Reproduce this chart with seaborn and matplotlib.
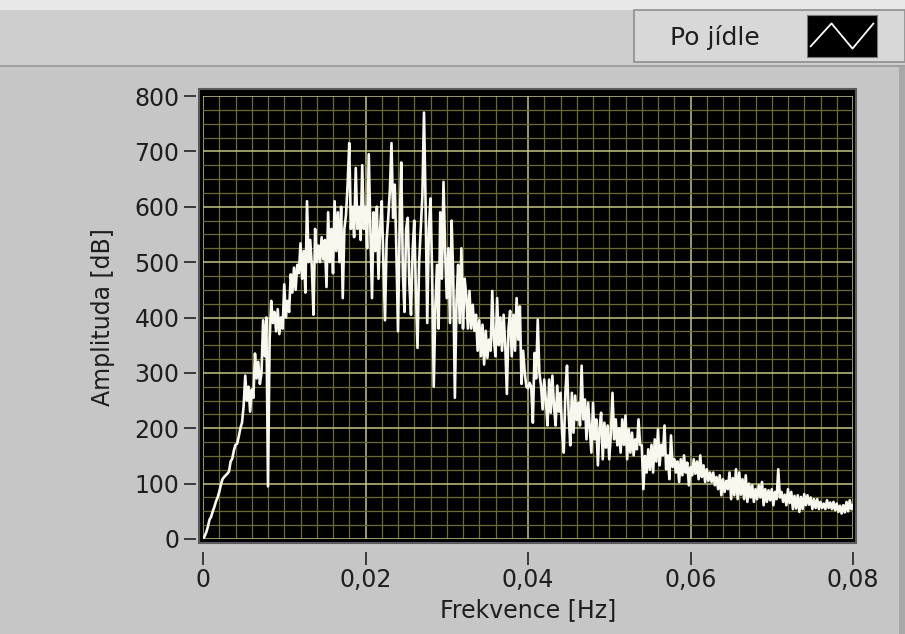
import numpy as np
import pandas as pd
import matplotlib
matplotlib.use("Agg")
import matplotlib.pyplot as plt
import seaborn as sns
from matplotlib.patches import Rectangle
from matplotlib.ticker import MultipleLocator

# -------------------------------
# DATA
# -------------------------------

series_name = "Po jídle"
freq_step = 0.0002

amplitude = [
    0, 5, 12, 22, 35, 40, 50, 58, 68, 75,
    85, 98, 108, 112, 115, 118, 122, 140, 145, 160,
    170, 172, 185, 200, 210, 240, 295, 250, 275, 230,
    270, 255, 335, 290, 320, 280, 300, 395, 330, 400,
    95, 360, 430, 390, 410, 375, 415, 370, 400, 380,
    460, 400, 430, 410, 478, 445, 490, 450, 495, 480,
    534, 470, 520, 445, 610, 500, 540, 490, 405, 560,
    500, 530, 500, 545, 505, 540, 455, 590, 500, 560,
    480, 610, 520, 590, 500, 600, 435, 560, 585, 640,
    715, 560, 600, 545, 670, 560, 600, 540, 675, 560,
    600, 525, 695, 560, 435, 590, 520, 600, 470, 560,
    610, 500, 395, 540, 580, 630, 715, 580, 640, 520,
    375, 560, 680, 480, 410, 560, 580, 460, 405, 520,
    575, 450, 345, 500, 560, 620, 770, 600, 390, 560,
    615, 480, 275, 420, 495, 380, 590, 470, 645, 520,
    435, 525, 390, 575, 470, 255, 430, 495, 390, 525,
    380, 470, 440, 380, 448, 380, 423, 376, 405, 340,
    395, 330, 387, 315, 376, 327, 360, 340, 448, 360,
    330, 435, 350, 400, 340, 405, 350, 262, 380, 412,
    330, 405, 340, 435, 360, 420, 280, 340, 300, 275,
    272, 282, 275, 210, 336, 290, 396, 300, 277, 234,
    288, 250, 205, 288, 228, 295, 240, 205, 277, 230,
    264, 192, 156, 264, 313, 228, 169, 264, 192, 259,
    215, 246, 205, 313, 216, 252, 180, 246, 200, 156,
    246, 180, 216, 133, 200, 228, 144, 210, 165, 205,
    144, 190, 264, 180, 216, 169, 200, 156, 216, 170,
    223, 144, 198, 156, 192, 151, 180, 162, 216, 170,
    169, 90, 150, 120, 162, 125, 170, 120, 180, 140,
    198, 133, 170, 151, 205, 126, 151, 108, 187, 130,
    144, 120, 140, 103, 144, 115, 151, 120, 138, 97,
    130, 115, 144, 118, 140, 108, 151, 112, 133, 103,
    126, 105, 120, 103, 120, 97, 112, 90, 115, 79,
    108, 85, 105, 90, 120, 72, 110, 79, 126, 72,
    120, 80, 108, 72, 115, 67, 100, 75, 97, 67,
    90, 72, 97, 75, 103, 61, 90, 67, 88, 70,
    90, 61, 85, 72, 126, 75, 85, 67, 80, 61,
    90, 65, 85, 54, 78, 55, 79, 49, 76, 54,
    81, 61, 79, 62, 75, 54, 72, 56, 72, 54,
    67, 56, 64, 54, 70, 56, 66, 54, 67, 52,
    64, 49, 60, 46, 61, 48, 67, 50, 70, 54,
    62,
]

x_ticks = [0, 0.02, 0.04, 0.06, 0.08]
x_tick_labels = ["0", "0,02", "0,04", "0,06", "0,08"]
y_ticks = [0, 100, 200, 300, 400, 500, 600, 700, 800]
legend_icon_x = [0.05, 0.35, 0.65, 0.95]
legend_icon_y = [0.25, 0.8, 0.2, 0.8]

df = pd.DataFrame({
    "Frekvence": np.arange(len(amplitude)) * freq_step,
    "Amplituda": amplitude,
})

# -------------------------------
# STYLE
# -------------------------------

sns.set_style("dark")
plt.rcParams["font.family"] = ["DejaVu Sans"]

W, H = 905, 634
bg = "#c6c6c6"
text_col = "#1e1e1e"
fs = 17

fig = plt.figure(figsize=(W / 100, H / 100), dpi=100, facecolor=bg)

# top strip + legend panel
fig.patches.append(Rectangle((0, 1 - 66 / H), 1, 66 / H, transform=fig.transFigure,
                             facecolor="#cecece", edgecolor="none", zorder=-5))
fig.patches.append(Rectangle((0, 1 - 10 / H), 1, 10 / H, transform=fig.transFigure,
                             facecolor="#e8e8e8", edgecolor="none", zorder=-5))
fig.patches.append(Rectangle((0, 1 - 67 / H), 1, 2 / H, transform=fig.transFigure,
                             facecolor="#a0a0a0", edgecolor="none", zorder=-5))
fig.patches.append(Rectangle((634 / W, 1 - 62 / H), 271 / W, 52 / H, transform=fig.transFigure,
                             facecolor="#d8d8d8", edgecolor="#8e8e8e", lw=1.2, zorder=-4))
# right edge shading
fig.patches.append(Rectangle((1 - 6 / W, 0), 6 / W, 1 - 67 / H, transform=fig.transFigure,
                             facecolor="#a8a8a8", edgecolor="none", zorder=-5))

# black plot frame slightly larger than the data area
fig.patches.append(Rectangle((199 / W, 1 - 543 / H), 657 / W, 454 / H, transform=fig.transFigure,
                             facecolor="black", edgecolor="#5a5a5a", lw=1.5, zorder=-4))

ax = fig.add_axes([203 / W, 1 - 539 / H, 650 / W, 443 / H])
ax.set_zorder(2)
ax.set_facecolor("black")

sns.lineplot(data=df, x="Frekvence", y="Amplituda", ax=ax, color="#f8f8ee",
             linewidth=1.9, legend=False, zorder=3)

ax.set_xlim(0, 0.08)
ax.set_ylim(0, 800)

ax.set_xticks(x_ticks)
ax.set_xticklabels(x_tick_labels)
ax.set_yticks(y_ticks)
ax.xaxis.set_minor_locator(MultipleLocator(0.002))
ax.yaxis.set_minor_locator(MultipleLocator(25))

ax.grid(which="major", color="#c4c482", linewidth=1.1, zorder=1)
ax.grid(which="minor", color="#6a6a32", linewidth=0.9, zorder=1)
ax.set_axisbelow(True)

for s in ax.spines.values():
    s.set_color("none")
ax.spines["bottom"].set_position(("outward", 9))
ax.spines["left"].set_position(("outward", 5))

ax.tick_params(which="minor", length=0)
ax.tick_params(axis="x", which="major", bottom=True, direction="out", length=9, width=1.4,
               color="#3a3a3a", labelsize=fs, labelcolor=text_col, pad=3)
ax.tick_params(axis="y", which="major", left=True, direction="out", length=9, width=1.4,
               color="#3a3a3a", labelsize=fs, labelcolor=text_col, pad=3)

ax.set_xlabel("Frekvence [Hz]", fontsize=fs, color=text_col, labelpad=4)
ax.set_ylabel("Amplituda [dB]", fontsize=fs, color=text_col, labelpad=14)

# legend
fig.text(670 / W, 1 - 37 / H, series_name, fontsize=18, color=text_col,
         va="center", ha="left")
icon = fig.add_axes([807 / W, 1 - 57 / H, 70 / W, 42 / H])
icon.set_zorder(3)
icon.set_facecolor("black")
icon.plot(legend_icon_x, legend_icon_y, color="white", lw=1.3)
icon.set_xlim(0, 1)
icon.set_ylim(0, 1)
icon.set_xticks([])
icon.set_yticks([])
for s in icon.spines.values():
    s.set_color("#7a7a7a")

plt.savefig("out.png", dpi=100, facecolor=fig.get_facecolor())
plt.close()
